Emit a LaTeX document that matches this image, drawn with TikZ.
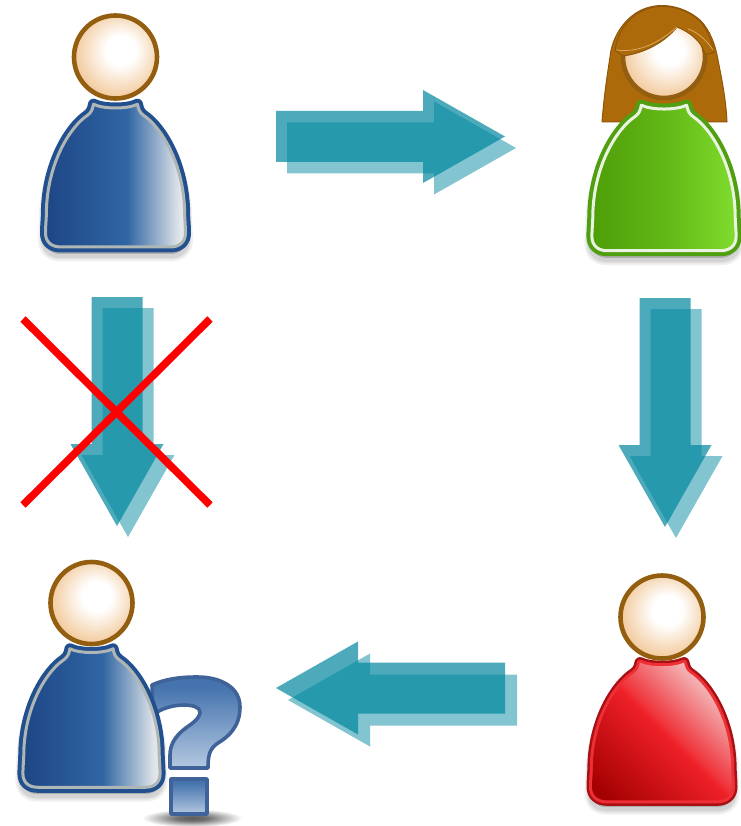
\documentclass[tikz,border=0pt]{standalone}
\usetikzlibrary{calc}
\definecolor{teal}{HTML}{00879E}
\definecolor{ringbrown}{HTML}{935E10}
\definecolor{peach}{HTML}{F3CDA2}
\definecolor{hairbrown}{HTML}{AD6A0A}
\definecolor{hairdark}{HTML}{8F5508}
\definecolor{hairlight}{HTML}{D9A760}
\definecolor{blueA}{HTML}{1E4685}
\definecolor{blueB}{HTML}{3065A3}
\definecolor{blueC}{HTML}{E2E6EA}
\definecolor{blueRim}{HTML}{22508F}
\definecolor{blueLine}{HTML}{AEB6B6}
\definecolor{greenA}{HTML}{4E9E08}
\definecolor{greenB}{HTML}{7FDC2C}
\definecolor{greenRim}{HTML}{4F9F10}
\definecolor{greenLine}{HTML}{EAF3E2}
\definecolor{redA}{HTML}{A30000}
\definecolor{redB}{HTML}{EE2028}
\definecolor{redC}{HTML}{F5E4E4}
\definecolor{redRim}{HTML}{A81014}
\definecolor{redLine}{HTML}{EE3036}
\definecolor{qA}{HTML}{4473AE}
\definecolor{qB}{HTML}{B4C8E0}
\definecolor{qRim}{HTML}{3F6299}
\pgfdeclarehorizontalshading{blueBody}{100bp}{color(0bp)=(blueA);color(25bp)=(blueA);color(54bp)=(blueB);color(73bp)=(blueC);color(100bp)=(blueC)}
\pgfdeclarehorizontalshading{greenBody}{100bp}{color(0bp)=(greenA);color(25bp)=(greenA);color(50bp)=(greenA!60!greenB);color(75bp)=(greenB);color(100bp)=(greenB)}
\pgfdeclarehorizontalshading{redBody}{100bp}{color(0bp)=(redA);color(18bp)=(redA);color(50bp)=(redB);color(52bp)=(redB!92!white);color(80bp)=(redC);color(100bp)=(redC)}
\pgfdeclareverticalshading{qVert}{100bp}{color(0bp)=(qB);color(25bp)=(qB);color(70bp)=(qA);color(100bp)=(qA)}
\pgfdeclareradialshading{faceShade}{\pgfpoint{4bp}{5bp}}{color(0bp)=(white);color(9bp)=(white);color(26bp)=(peach);color(50bp)=(peach)}
\pgfdeclareradialshading{dropShade}{\pgfpoint{0bp}{0bp}}{color(0bp)=(black!65);color(8bp)=(black!55);color(25bp)=(white);color(50bp)=(white)}
\tikzset{
  arrowfront/.style={fill=teal,fill opacity=.70},
  arrowback/.style={fill=teal,fill opacity=.49},
  crossline/.style={draw=red,line width=7.5pt},
  softshadow/.style={draw=black,fill=black,opacity=.06,line join=round},
  facering/.style={draw=ringbrown,line width=4.6pt,shading=faceShade},
}
\newcommand{\bodyoutline}{(-22,47) .. controls (-12,52) and (12,52) .. (22,47) .. controls (23,52) and (24,55) .. (28,58) .. controls (46,70) and (67,105) .. (69,150) .. controls (69,160) and (70,168) .. (70,175) .. controls (70,184) and (64,189) .. (55,189) -- (-55,189) .. controls (-64,189) and (-70,184) .. (-70,175) .. controls (-70,168) and (-69,160) .. (-69,150) .. controls (-67,105) and (-46,70) .. (-28,58) .. controls (-24,55) and (-23,52) .. (-22,47) -- cycle}
\newcommand{\personbody}[8]{%
  \coordinate (#1) at (#2,#3);
  \begin{scope}[shift={(#1)},xscale=#4,yscale=#5]
    \foreach \w in {15,11,8}{\path[softshadow,line width=\w pt,shift={(0,7)}] \bodyoutline;}
    \draw[#7,line width=11pt,line join=round] \bodyoutline;
    \shade[shading=#6] \bodyoutline;
    \draw[#8,line width=3pt,line join=round] \bodyoutline;
  \end{scope}}
\newcommand{\personhead}[2]{%
  \path[facering] (#1) circle (#2);}
\newcommand{\blockarrow}[3]{%
  \fill[#3,shift={(#1)},rotate=#2] (0,-25.5) -- (147,-25.5) -- (147,-46.5) -- (229,0) -- (147,46.5) -- (147,25.5) -- (0,25.5) -- cycle;}
\begin{document}
\begin{tikzpicture}[x=1pt,y=-1pt]
\useasboundingbox (0,0) rectangle (740,826);
\fill[white] (0,0) rectangle (740,826);
% block arrows
\coordinate (topTail) at (276,136.5);
\coordinate (topTailB) at (287,148);
\coordinate (rightTail) at (665,298);
\coordinate (rightTailB) at (676,309);
\coordinate (leftTail) at (117,297);
\coordinate (leftTailB) at (128,308);
\coordinate (botTail) at (505,688);
\coordinate (botTailB) at (517,700);
\blockarrow{topTailB}{0}{arrowback}
\blockarrow{topTail}{0}{arrowfront}
\blockarrow{rightTailB}{-90}{arrowback}
\blockarrow{rightTail}{-90}{arrowfront}
\blockarrow{leftTailB}{-90}{arrowback}
\blockarrow{leftTail}{-90}{arrowfront}
\blockarrow{botTailB}{180}{arrowback}
\blockarrow{botTail}{180}{arrowfront}
% red cross
\coordinate (crossA) at (23,319);
\coordinate (crossB) at (210,505);
\coordinate (crossC) at (210,319);
\coordinate (crossD) at (23,505);
\draw[crossline] (crossA) -- (crossB);
\draw[crossline] (crossC) -- (crossD);
% man top left
\personbody{man}{115.5}{57}{1}{1.005}{blueBody}{blueRim}{blueLine}
\personhead{man}{41.5}
% woman
\coordinate (woman) at (664,57);
\path[fill=hairbrown,draw=hairdark,line width=1pt,line join=round] (602,122) .. controls (604,95) and (608,70) .. (610,57) .. controls (612,35) and (628,12) .. (650,7) .. controls (665,3) and (685,7) .. (700,20) .. controls (710,30) and (715,45) .. (717,55) .. controls (722,80) and (726,100) .. (727,122) -- cycle;
\personbody{womanbody}{664}{57}{1.03}{1.025}{greenBody}{greenRim}{greenLine}
\personhead{woman}{41}
\path[fill=hairbrown,draw=hairdark,line width=1pt,line join=round] (615,50) .. controls (618,30) and (630,14) .. (650,8) .. controls (668,3) and (688,10) .. (700,21) .. controls (708,30) and (712,42) .. (714,52) .. controls (710,54) and (708,54) .. (705,54) .. controls (702,42) and (690,32) .. (677,27) .. controls (665,42) and (645,53) .. (623,56) .. controls (620,54) and (617,52) .. (615,50) -- cycle;
\draw[hairlight,line width=.8pt] (616,50) .. controls (640,53) and (660,42) .. (677,27);
\draw[hairlight,line width=.8pt] (688,29) .. controls (698,32) and (708,42) .. (713,50);
% question mark
\coordinate (qmark) at (192,818);
\shade[shading=dropShade] (qmark) ellipse (50 and 9);
\path[shading=qVert,draw=qRim,line width=3.6pt,line join=round] (152,685) .. controls (165,679) and (180,677) .. (197,677) .. controls (222,677) and (240,688) .. (240,707) .. controls (240,727) and (228,737) .. (218,743) .. controls (211,748) and (208,752) .. (208,768) -- (170,768) -- (170,755) .. controls (170,742) and (178,733) .. (190,725) .. controls (197,720) and (200,716) .. (200,712) .. controls (200,707) and (192,705) .. (184,705) .. controls (172,705) and (160,709) .. (153,715) -- cycle;
\path[shading=qVert,draw=qRim,line width=3.6pt,line join=round] (171,779) rectangle (207,814);
% person with question
\personbody{unsure}{91.5}{603}{.98}{.975}{blueBody}{blueRim}{blueLine}
\personhead{unsure}{41}
% red person
\coordinate (redp) at (662,617);
\begin{scope}[shift={(redp)},xscale=1,yscale=.97]
  \foreach \w in {15,11,8}{\path[softshadow,line width=\w pt,shift={(0,7)}] \bodyoutline;}
  \draw[redRim,line width=11pt,line join=round] \bodyoutline;
  \draw[redLine,line width=6pt,line join=round] \bodyoutline;
  \shade[shading=redBody,shading angle=45] \bodyoutline;
\end{scope}
\personhead{redp}{41.5}
\end{tikzpicture}
\end{document}
